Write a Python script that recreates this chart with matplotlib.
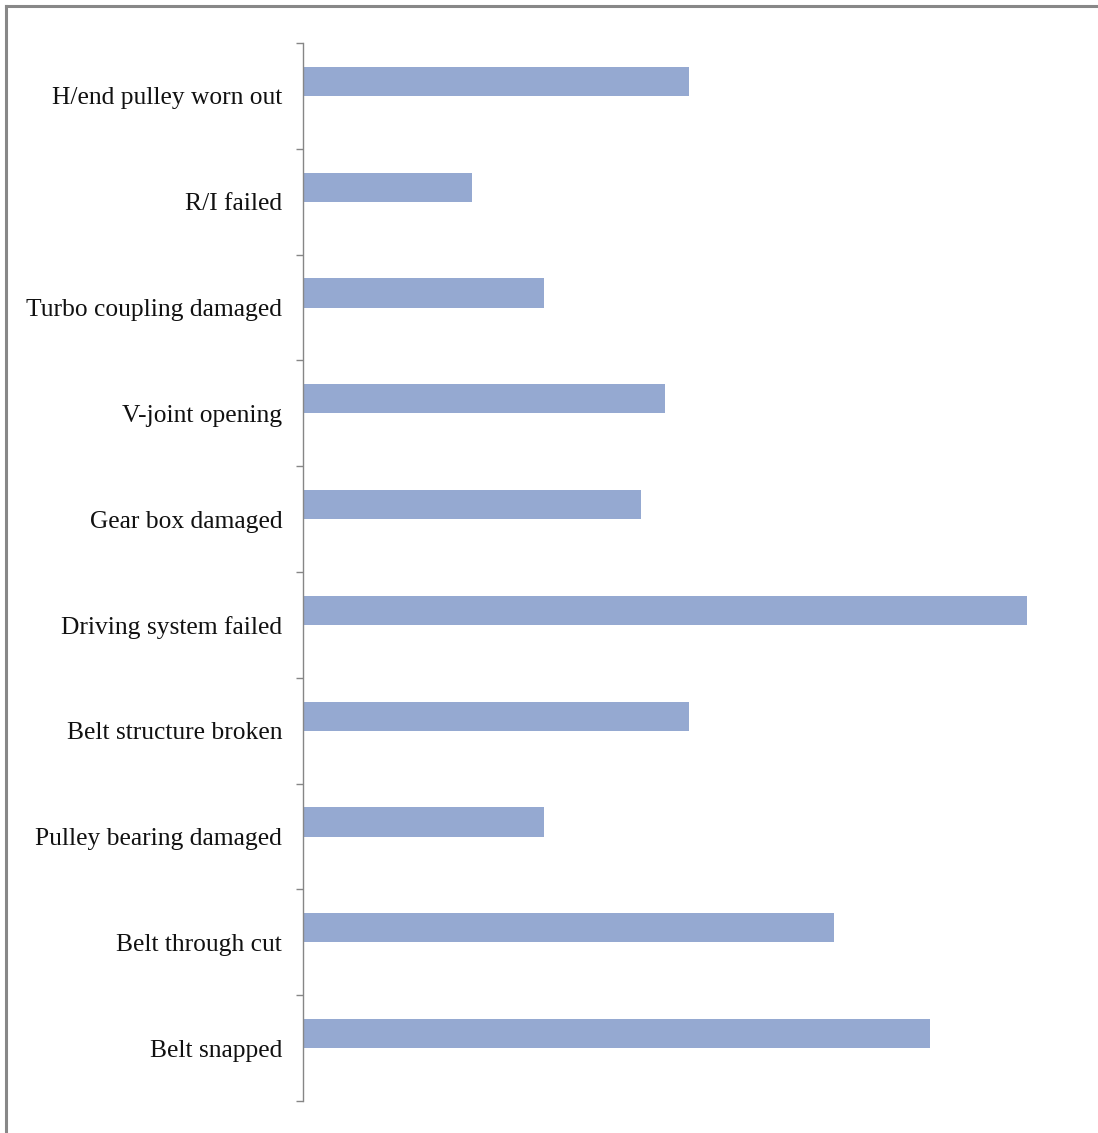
import matplotlib
matplotlib.use("Agg")
import matplotlib.pyplot as plt
from matplotlib.lines import Line2D
import numpy as np

# ── Data (top to bottom) ──
causes = [
    "H/end pulley worn out",
    "R/I failed",
    "Turbo coupling damaged",
    "V-joint opening",
    "Gear box damaged",
    "Driving system failed",
    "Belt structure broken",
    "Pulley bearing damaged",
    "Belt through cut",
    "Belt snapped",
]
counts = [16, 7, 10, 15, 14, 30, 16, 10, 22, 26]

bar_color = "#95a9d1"
axis_grey = "#868686"

fig = plt.figure(figsize=(10.98, 11.33), dpi=100)
ax = fig.add_axes([303 / 1098, 1 - 1101 / 1133, 787 / 1098, (1101 - 43) / 1133])

y = np.arange(len(causes))
# bars sit a bit above the category centre (empty second series in the original)
ax.barh(y - 0.137, counts, height=0.275, color=bar_color, edgecolor="none")

ax.set_xlim(0, 787 / 24.13)
ax.set_ylim(len(causes) - 0.5, -0.5)

for side in ["top", "right", "bottom"]:
    ax.spines[side].set_visible(False)
ax.spines["left"].set_color(axis_grey)
ax.spines["left"].set_linewidth(1.0)

ax.set_xticks([])
ax.set_yticks(y)
ax.set_yticklabels(causes, fontfamily="Liberation Serif", fontsize=18.4, color="#111111")
ax.tick_params(axis="y", which="major", length=0, pad=15)
ax.set_yticks(np.arange(-0.5, len(causes)), minor=True)
ax.tick_params(axis="y", which="minor", length=5, width=1.0, color=axis_grey, direction="out")

# outer frame (top and left edges only visible)
fig.add_artist(Line2D([6 / 1098, 1], [1 - 6 / 1133, 1 - 6 / 1133],
                      transform=fig.transFigure, color="#888888", linewidth=2.2))
fig.add_artist(Line2D([6 / 1098, 6 / 1098], [0, 1 - 6 / 1133],
                      transform=fig.transFigure, color="#888888", linewidth=2.2))

fig.savefig("out.png", dpi=100)
